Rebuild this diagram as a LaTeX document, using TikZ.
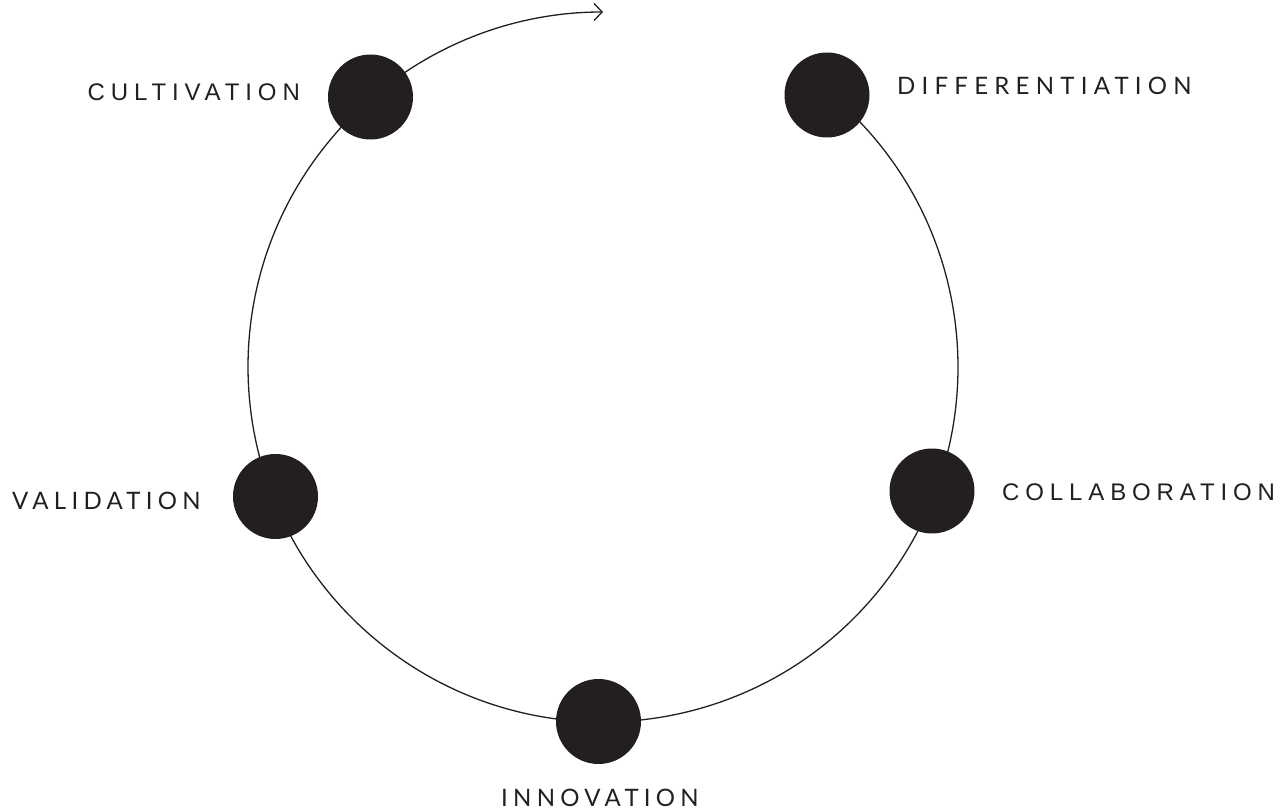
\documentclass[tikz,border=0pt]{standalone}
\usepackage{fontspec}
\setmainfont{Liberation Sans}
\newfontfamily\arialsp[LetterSpace=24.5]{Liberation Sans}
\newfontfamily\latospA[LetterSpace=26]{Lato}
\newfontfamily\latospB[LetterSpace=22]{Lato}
\usetikzlibrary{arrows.meta}
\definecolor{ink}{HTML}{231F20}
\begin{document}
\begin{tikzpicture}[x=1pt,y=1pt,
  dot/.style={circle,fill=ink,inner sep=0pt,minimum size=85pt},
  lblA/.style={font=\arialsp\fontsize{24}{24}\selectfont,text=ink,inner sep=0pt},
  lblB/.style={font=\latospA\fontsize{24}{24}\selectfont,text=ink,inner sep=0pt},
  lblC/.style={font=\latospB\fontsize{24}{24}\selectfont,text=ink,inner sep=0pt},
  ring/.style={line width=1.3pt,draw=ink}]
\useasboundingbox (0,0) rectangle (1286,811);
\coordinate (c) at (603,444);
\draw[ring,-{Straight Barb[length=8pt,width=17pt,line width=1.3pt]}] (c) ++(50.5:355) arc[start angle=50.5,end angle=-270,radius=355];
\node[dot] (cult) at (370.5,714) {};
\node[dot] (diff) at (827,716) {};
\node[dot] (coll) at (932,320) {};
\node[dot] (inno) at (598.5,89.5) {};
\node[dot] (vali) at (275.5,314.5) {};
\node[lblA,anchor=west] (tcult) at (87.5,718.5) {CULTIVATION};
\node[lblB,anchor=west] (tdiff) at (897,725) {DIFFERENTIATION};
\node[lblA,anchor=west] (tcoll) at (1002,318.5) {COLLABORATION};
\node[lblC,anchor=west] (tvali) at (12,310) {VALIDATION};
\node[lblC,anchor=west] (tinno) at (501,13) {INNOVATION};
\end{tikzpicture}
\end{document}
